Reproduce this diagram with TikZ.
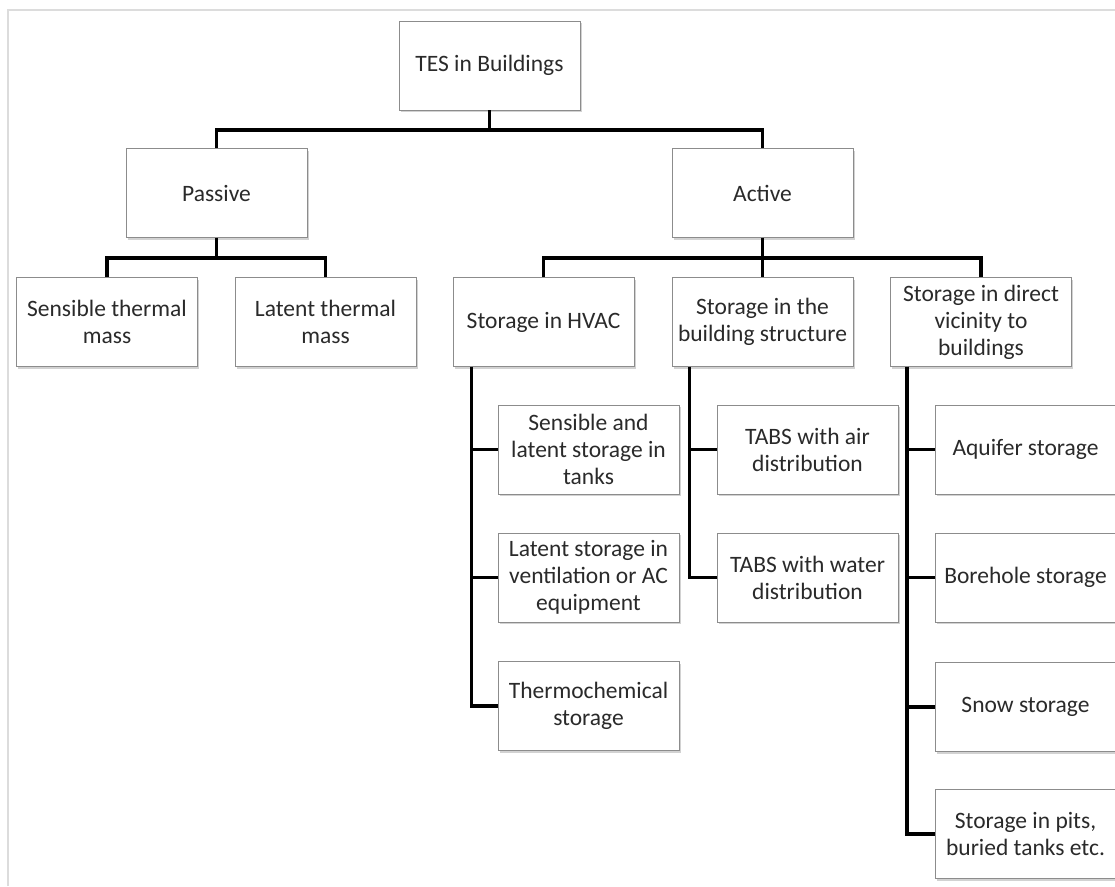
\documentclass[tikz,border=0pt]{standalone}
\usepackage{fontspec}
\setmainfont{Carlito}
\usetikzlibrary{shadows}
\definecolor{boxline}{HTML}{8C8C8C}
\definecolor{txt}{HTML}{2A2A2A}
\definecolor{frame}{HTML}{DCDCDC}
\begin{document}
\begin{tikzpicture}[x=1pt,y=1pt,
  box/.style={draw=boxline, line width=0.9pt, fill=white, text=txt,
    minimum width=181pt, minimum height=89pt, inner sep=1pt, align=center,
    font=\fontsize{23.5}{27}\selectfont,
    drop shadow={shadow xshift=1.5pt, shadow yshift=-2pt, opacity=0.35, fill=gray}},
  conn/.style={draw=black, line width=3.3pt}]
\useasboundingbox (0,0) rectangle (1115,-886);
\fill[white] (0,0) rectangle (1115,-886);
\draw[frame, line width=1.2pt] (8,-886) -- (8,-10) -- (1115,-10);

\node[box] (tes) at (489.5,-65.5) {TES in Buildings};
\node[box] (passive) at (216.5,-193) {Passive};
\node[box] (active) at (762.5,-193) {Active};
\node[box] (sens) at (107,-322) {Sensible thermal\\mass};
\node[box] (lat) at (325.5,-322) {Latent thermal\\mass};
\node[box] (hvac) at (543.5,-322) {Storage in HVAC};
\node[box] (struct) at (762.5,-322) {Storage in the\\building structure};
\node[box] (vic) at (981,-322) {Storage in direct\\vicinity to\\buildings};
\node[box] (tanks) at (588.5,-449.5) {Sensible and\\latent storage in\\tanks};
\node[box] (vent) at (588.5,-577.5) {Latent storage in\\ventilation or AC\\equipment};
\node[box] (thermo) at (588.5,-706) {Thermochemical\\storage};
\node[box] (air) at (807.5,-449.5) {TABS with air\\distribution};
\node[box] (water) at (807.5,-577.5) {TABS with water\\distribution};
\node[box] (aqui) at (1025.5,-449.5) {Aquifer storage};
\node[box] (bore) at (1025.5,-577.5) {Borehole storage};
\node[box] (snow) at (1025.5,-707) {Snow storage};
\node[box] (pits) at (1025.5,-834) {Storage in pits,\\buried tanks etc.};

\draw[conn] (tes.south) -- ++(0,-19.5) -| (passive.north);
\draw[conn] (tes.south) -- ++(0,-19.5) -| (active.north);
\draw[conn] (passive.south) -- ++(0,-20) -| (sens.north);
\draw[conn] (passive.south) -- ++(0,-20) -| (lat.north);
\draw[conn] (active.south) -- ++(0,-20) -| (hvac.north);
\draw[conn] (active.south) -- (struct.north);
\draw[conn] (active.south) -- ++(0,-20) -| (vic.north);

\draw[conn] ([xshift=19pt]hvac.south west) |- (tanks.west);
\draw[conn] ([xshift=19pt]hvac.south west) |- (vent.west);
\draw[conn] ([xshift=19pt]hvac.south west) |- (thermo.west);
\draw[conn] ([xshift=18pt]struct.south west) |- (air.west);
\draw[conn] ([xshift=18pt]struct.south west) |- (water.west);
\draw[conn] ([xshift=17pt]vic.south west) |- (aqui.west);
\draw[conn] ([xshift=17pt]vic.south west) |- (bore.west);
\draw[conn] ([xshift=17pt]vic.south west) |- (snow.west);
\draw[conn] ([xshift=17pt]vic.south west) |- (pits.west);
\end{tikzpicture}
\end{document}
